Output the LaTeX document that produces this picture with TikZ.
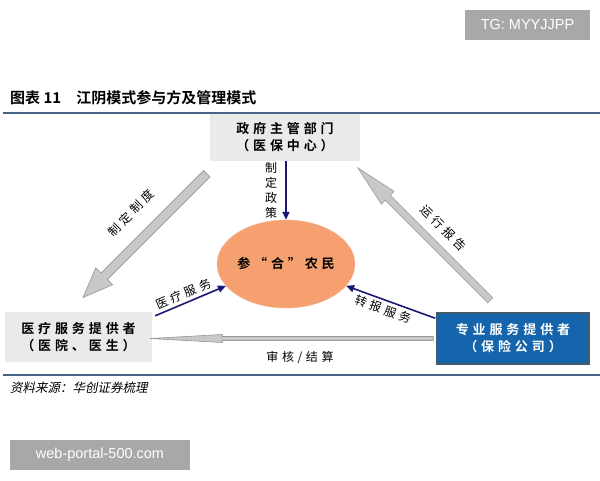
\documentclass[tikz,border=0pt]{standalone}
\usepackage{fontspec}
\usetikzlibrary{arrows.meta,calc,positioning,shapes.geometric}
\setmainfont{Noto Sans CJK SC}[BoldFont={Noto Sans CJK SC Bold}]
\newfontfamily\boxfont{Noto Sans CJK SC}[LetterSpace=30,BoldFont={Noto Sans CJK SC Bold}]
\newfontfamily\srcfont{Noto Sans CJK SC}[FakeSlant=0.2]
\newfontfamily\wmfont{Liberation Sans}
\definecolor{rulecol}{RGB}{70,100,135}
\definecolor{boxgray}{RGB}{234,234,234}
\definecolor{boxblue}{RGB}{21,101,172}
\definecolor{boxblueline}{RGB}{70,90,110}
\definecolor{farmfill}{RGB}{246,160,112}
\definecolor{farmline}{RGB}{240,180,150}
\definecolor{navy}{RGB}{25,25,115}
\definecolor{arrfill}{RGB}{200,200,200}
\definecolor{arrline}{RGB}{150,150,150}
\definecolor{wmgray}{RGB}{168,168,168}
% fat gray arrow: tail, angle, length, shaft half width, head half width, head length
\newcommand{\fatarrow}[6]{%
  \draw[fatarrowstyle, shift={(#1)}, rotate=#2] (0,#4) -- ({#3-#6},#4) -- ({#3-#6},#5)
    -- (#3,0) -- ({#3-#6},-#5) -- ({#3-#6},-#4) -- (0,-#4) -- cycle;}
\tikzset{
  fatarrowstyle/.style={draw=arrline, fill=arrfill, line width=0.6pt, line join=miter},
  graybox/.style={fill=boxgray, minimum width=150pt, minimum height=47pt, align=center,
    inner sep=2pt, font=\boxfont\bfseries\fontsize{13}{17}\selectfont},
  bluebox/.style={fill=boxblue, draw=boxblueline, line width=1.5pt, text=white,
    minimum width=152pt, minimum height=51pt, align=center, inner sep=2pt,
    font=\boxfont\bfseries\fontsize{13}{17}\selectfont},
  farmer/.style={ellipse, fill=farmfill, draw=farmline, minimum width=120pt,
    minimum height=88pt, inner sep=0pt, font=\boxfont\bfseries\fontsize{13}{15}\selectfont},
  navyarrow/.style={draw=navy, line width=1.6pt, -{Triangle[length=8pt,width=7pt]}},
  lbl/.style={font=\boxfont\fontsize{12}{15}\selectfont, inner sep=1pt},
  watermark/.style={fill=wmgray, text=white, font=\wmfont\fontsize{14.5}{16}\selectfont}
}
\begin{document}
\begin{tikzpicture}[x=1pt,y=-1pt]
\useasboundingbox (0,0) rectangle (600,480);
% watermarks
\node[watermark, minimum width=125pt, minimum height=30pt] (tg) at (527.5,25) {TG: MYYJJPP};
\node[watermark, minimum width=180pt, minimum height=30pt] (web) at (100,455) {web-portal-500.com};
% title and rules
\node[anchor=west, inner sep=0pt, font=\bfseries\fontsize{15}{17}\selectfont] (title) at (10,98) {图表 11\quad 江阴模式参与方及管理模式};
\draw[rulecol, line width=2.5pt] (3,113) -- (600,113);
\draw[rulecol, line width=2.5pt] (3,375) -- (600,375);
\node[anchor=west, inner sep=0pt, font=\srcfont\fontsize{12.5}{14}\selectfont] (source) at (10,388) {资料来源：华创证券梳理};
% parties
\node[graybox] (gov) at (285,137) {政府主管部门\\（医保中心）};
\node[graybox, minimum width=147pt, minimum height=50pt] (hosp) at (78.5,337) {医疗服务提供者\\（医院、医生）};
\node[bluebox] (ins) at (513,338.5) {专业服务提供者\\（保险公司）};
\node[farmer] (farm) at (286,264) {参“合”农民};
% gray arrows
\coordinate (gtail) at ($(gov.south west)+(-3,13)$);
\fatarrow{gtail}{225}{175}{4.5}{12}{30}
\node[lbl, rotate=45] (rule) at (131,213) {制定制度};
\coordinate (itail) at ($(ins.north west)+(54,-12)$);
\fatarrow{itail}{135}{187}{3.5}{9}{42}
\node[lbl, rotate=-45] (report) at (443,228) {运行报告};
\coordinate (btail) at ($(ins.west)+(-3,0)$);
\fatarrow{btail}{180}{283}{2}{4}{72}
\node[lbl] (audit) at (300,357) {审核/结算};
% navy arrows
\draw[navyarrow] (gov.south -| farm.north) -- (farm.north)
  node[midway, left=7pt, lbl, align=center, font=\fontsize{12}{15}\selectfont] (policy) {制\\定\\政\\策};
\coordinate (hospout) at ($(hosp.north east)+(3,4)$);
\draw[navyarrow] (hospout) -- (farm.200) node[pos=0.45, sloped, above=2pt, lbl] (medserv) {医疗服务};
\coordinate (insout) at ($(ins.north west)+(-1,6)$);
\draw[navyarrow] (insout) -- (farm.-20) node[pos=0.55, sloped, below=2pt, lbl] (transfer) {转报服务};
\end{tikzpicture}
\end{document}
